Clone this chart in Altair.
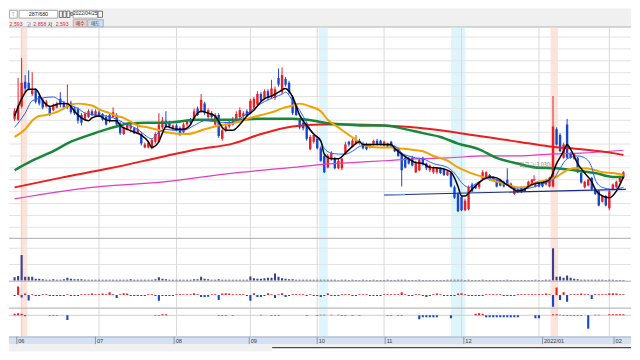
import altair as alt
import pandas as pd

# ---------------- data ----------------
opens = [3112,3104,3216,3424,3416,3320,3360,3304,3272,3216,
         3208,3184,3208,3280,3248,3208,3248,3200,3192,3144,
         3112,3128,3176,3136,3168,3152,3128,3144,3128,3144,
         3072,2984,3024,3032,3032,2992,2984,2872,2872,2864,
         2920,2920,3040,3096,3080,3024,3056,3032,3000,3064,
         3104,3104,3200,3176,3240,3128,3160,3064,3144,2944,
         3016,3048,3064,3104,3128,3136,3176,3160,3208,3232,
         3320,3280,3344,3296,3288,3456,3336,3448,3416,3296,
         3224,3104,3080,3064,2856,2920,2944,2864,2800,2704,
         2776,2776,2696,2696,2816,2920,2880,2904,2928,2904,
         2896,2872,2896,2928,2928,2888,2904,2920,2880,2856,
         2816,2784,2776,2784,2664,2680,2784,2736,2680,2664,
         2664,2696,2688,2640,2656,2536,2480,2456,2344,2352,
         2560,2552,2536,2600,2624,2640,2592,2600,2600,2584,
         2600,2536,2480,2520,2536,2536,2536,2560,2544,2584,
         2584,2560,2544,2544,3024,2976,2784,3064,2824,2776,
         2784,2656,2536,2552,2616,2520,2504,2416,2464,2360,
         2520,2536,2584,2616]
closes = [3176,3224,3416,3368,3368,3352,3256,3240,3208,3256,
          3144,3224,3240,3232,3208,3248,3168,3160,3096,3080,
          3152,3176,3144,3176,3136,3104,3064,3096,3168,3064,
          2992,3040,3064,3056,2992,3024,2904,2896,2912,2936,
          2984,3064,3096,3048,3048,3056,3016,2984,3064,3096,
          3080,3176,3144,3272,3160,3184,3128,3144,2968,3016,
          3048,3088,3112,3152,3184,3160,3136,3264,3280,3320,
          3264,3344,3288,3368,3360,3400,3480,3400,3336,3160,
          3144,3040,3032,2944,2960,2976,2864,2760,2664,2800,
          2824,2696,2760,2776,2896,2896,2928,2936,2904,2864,
          2856,2896,2928,2896,2896,2920,2880,2880,2840,2800,
          2680,2704,2736,2720,2744,2768,2728,2696,2720,2704,
          2696,2656,2640,2672,2544,2448,2336,2344,2424,2536,
          2504,2528,2576,2664,2664,2600,2624,2544,2552,2544,
          2560,2568,2536,2496,2496,2504,2584,2600,2560,2544,
          2544,2600,2616,3048,2896,2840,2896,2784,2784,2816,
          2664,2576,2584,2600,2520,2480,2384,2464,2384,2504,
          2560,2584,2624,2664]
highs = [3200,3456,3624,3480,3520,3504,3368,3320,3288,3272,
         3224,3240,3256,3336,3264,3400,3264,3216,3208,3160,
         3168,3192,3192,3192,3184,3160,3144,3160,3208,3160,
         3088,3048,3072,3072,3040,3080,3000,2912,2928,2944,
         3000,3160,3128,3176,3096,3064,3072,3048,3080,3104,
         3120,3200,3216,3320,3256,3200,3176,3160,3160,3032,
         3072,3104,3128,3176,3208,3176,3192,3280,3296,3344,
         3336,3360,3360,3440,3384,3536,3544,3464,3432,3312,
         3240,3120,3096,3080,2976,2992,2960,2880,2816,2816,
         2840,2792,2776,2784,2920,2928,2944,2976,2944,2920,
         2912,2904,2936,2944,2936,2928,2912,2928,2888,2864,
         2832,2800,2792,2800,2760,2784,2792,2744,2728,2712,
         2704,2704,2696,2680,2672,2552,2496,2472,2440,2552,
         2576,2560,2584,2680,2672,2648,2632,2608,2608,2592,
         2696,2576,2544,2528,2544,2544,2592,2608,2568,2592,
         2592,2608,2624,3304,3040,2992,2912,3112,2832,2824,
         2792,2664,2592,2608,2624,2528,2512,2472,2472,2520,
         2568,2592,2632,2672]
lows = [3096,3096,3200,3336,3352,3304,3240,3224,3192,3208,
        3136,3176,3200,3208,3192,3192,3152,3144,3072,3056,
        3096,3120,3136,3128,3128,3096,3056,3080,3120,3048,
        2976,2976,3016,3000,2984,2984,2888,2864,2864,2856,
        2904,2912,3024,3032,3032,3016,3008,2968,2992,3048,
        3064,3096,3136,3160,3144,3112,3112,3056,2952,2928,
        3000,3032,3056,3088,3112,3120,3128,3152,3192,3216,
        3256,3272,3272,3280,3272,3384,3320,3384,3320,3144,
        3136,3024,3016,2928,2848,2904,2856,2752,2656,2696,
        2760,2688,2688,2680,2808,2880,2872,2896,2896,2856,
        2848,2864,2888,2888,2888,2880,2872,2872,2832,2792,
        2544,2696,2728,2712,2656,2672,2720,2680,2664,2648,
        2648,2648,2632,2632,2536,2440,2328,2336,2336,2344,
        2496,2520,2520,2592,2616,2592,2584,2536,2544,2536,
        2552,2528,2472,2488,2488,2496,2528,2552,2536,2536,
        2536,2552,2536,2536,2888,2832,2776,2776,2776,2768,
        2656,2568,2528,2544,2512,2472,2376,2408,2376,2344,
        2512,2528,2576,2608]
volumes = [70,100,540,80,80,80,40,40,30,20,
           20,30,20,20,30,60,40,30,30,30,
           20,20,20,20,18,20,22,20,18,20,
           20,18,20,30,20,18,20,22,20,18,
           30,70,40,30,20,20,18,20,22,20,
           20,30,30,80,40,30,20,20,30,20,
           20,18,20,20,18,20,20,90,50,40,
           40,50,60,60,150,80,50,40,30,30,
           20,20,20,20,18,20,18,20,22,20,
           18,18,16,18,20,16,18,16,16,18,
           16,16,18,16,16,16,18,16,16,18,
           22,18,16,16,16,18,16,16,16,16,
           16,16,16,18,20,18,20,18,16,18,
           16,16,16,18,16,16,16,16,16,16,
           18,16,16,16,16,16,16,16,18,16,
           16,18,22,680,80,90,60,110,60,40,
           30,20,20,18,20,18,20,18,16,20,
           18,16,16,16]
ind1 = [-5,45,-12,8,-28,5,-5,-5,5,5,
        -5,-5,-5,-5,-5,4,-5,-5,-5,5,
        5,5,8,5,5,8,5,15,5,-15,
        5,10,8,-5,-5,-5,-5,-5,5,5,
        -5,-30,-5,-5,-5,-5,5,5,5,5,
        5,10,5,-10,-10,-8,5,5,-25,8,
        10,8,5,5,5,5,-5,-30,10,-10,
        -10,-5,10,5,-15,5,10,-10,-5,5,
        5,5,5,-5,5,-5,-5,-10,-5,10,
        -5,-5,-5,5,5,5,-5,-5,5,5,
        5,-5,-5,-5,-5,5,5,5,5,5,
        15,5,-5,-5,5,5,-5,-10,-5,5,
        8,5,-5,-5,-5,-5,8,10,5,-5,
        -5,-5,-5,-5,5,5,5,5,5,-5,
        -5,-5,-5,5,5,5,5,5,5,5,
        5,8,5,-60,40,-25,15,-35,5,5,
        5,8,5,5,-20,5,5,5,5,10,
        10,8,5,5]
ind2 = [15,20,15,-10,0,0,0,0,0,0,
        -5,-5,-5,0,0,-50,0,0,0,0,
        0,0,0,0,0,0,0,0,0,0,
        0,0,0,0,0,0,0,0,0,0,
        -5,-5,10,10,0,0,0,0,0,0,
        0,0,0,0,0,0,0,0,-5,-5,
        -5,0,-5,0,0,0,0,0,0,0,
        5,0,0,-5,-5,-5,0,0,0,0,
        0,0,0,-5,0,0,-5,5,5,0,
        5,0,5,-5,-5,0,-5,0,-5,0,
        0,0,0,0,0,0,-5,-5,0,-5,
        -5,0,0,0,0,-40,-20,-20,-20,-20,
        -20,0,0,0,-30,0,0,0,0,0,
        0,15,20,15,-20,-20,-20,-20,-20,-20,
        -20,-20,-20,-20,0,0,0,0,-30,-30,
        0,0,0,10,10,5,-5,-5,-5,-5,
        -5,-5,0,-140,0,5,5,0,0,10,
        10,10,10,10]

ma5_i = [0,2,4,6,8,10,11,13,15,16,17,19,21,22,24,26,27,29,30,32,34,36,38,39,41,42,43,46,48,50,
         51,53,55,57,59,60,62,64,66,68,70,71,73,75,77,78,79,81,83,85,87,88,90,92,94,96,98,99,103,107,
         108,110,112,114,116,118,121,124,126,127,128,130,132,134,135,137,139,141,143,145,146,148,150,152,154,156,157,158,160,162,
         164,165,167,169,171,173]
ma5_v = [3136,3280,3360,3360,3264,3216,3224,3240,3240,3216,3176,3120,3096,3120,3136,3104,3096,3096,3056,3024,
         3000,2976,2920,2872,2920,2992,3048,3024,3024,3064,3120,3176,3160,3136,3040,3016,3016,3064,3136,3184,
         3256,3280,3304,3336,3368,3344,3296,3144,3056,2984,2928,2816,2776,2776,2824,2880,2920,2896,2896,2896,
         2864,2816,2776,2744,2736,2704,2696,2664,2544,2464,2464,2520,2576,2616,2624,2616,2576,2536,2504,2520,
         2544,2568,2576,2600,2736,2840,2896,2856,2736,2656,2584,2520,2464,2448,2504,2624]
ma10_i = [0,3,5,8,11,13,16,18,20,23,26,28,31,32,35,37,39,41,43,45,48,51,54,57,61,67,70,74,76,77,
          79,81,83,85,87,88,90,92,94,96,98,99,103,107,109,110,112,114,116,119,123,125,127,129,132,135,137,140,143,146,
          148,151,153,155,157,160,162,164,165,167,170,173]
ma10_v = [3040,3160,3264,3288,3296,3264,3224,3200,3160,3144,3136,3120,3080,3064,3024,2976,2944,3000,3024,3016,
          3016,3056,3096,3088,3080,3176,3240,3296,3320,3336,3264,3184,3080,2976,2920,2864,2824,2816,2816,2840,
          2880,2888,2896,2888,2864,2824,2800,2784,2776,2736,2704,2656,2576,2536,2584,2616,2600,2560,2520,2528,
          2544,2576,2600,2696,2776,2800,2784,2704,2600,2536,2520,2536]
ma20_i = [0,3,5,7,9,11,13,16,18,22,24,27,29,31,33,35,38,41,43,49,54,58,63,67,70,74,76,79,81,84,
          87,89,92,95,97,99,103,107,109,112,116,119,123,126,129,133,137,140,143,146,148,152,154,156,159,162,165,167,170,173]
ma20_v = [2960,3024,3096,3136,3144,3160,3184,3232,3240,3224,3192,3160,3136,3120,3088,3056,3040,3016,3000,2984,
          3024,3056,3080,3120,3144,3176,3200,3224,3240,3216,3176,3104,3040,2976,2936,2896,2872,2872,2864,2856,
          2840,2800,2760,2704,2664,2624,2584,2560,2536,2544,2576,2600,2624,2664,2696,2696,2680,2664,2656,2640]
ma60_i = [0,5,11,16,22,27,30,32,38,43,52,58,63,69,79,85,88,94,99,105,110,116,121,126,132,137,143,148,154,159,165,170,173]
ma60_v = [2680,2760,2840,2920,2984,3032,3056,3072,3080,3080,3104,3104,3104,3112,3112,3096,3080,3064,3056,3056,
          3032,2992,2960,2904,2856,2784,2736,2704,2696,2680,2656,2624,2624]
ma120_i = [0,13,27,43,52,62,70,79,87,96,105,114,123,130,134,143,152,161,170,173]
ma120_v = [2536,2616,2696,2800,2856,2904,2984,3048,3064,3064,3056,3040,3008,2976,2960,2920,2880,2856,2824,2808]
ma240_i = [0,22,43,62,79,87,96,105,114,123,134,143,152,161,173]
ma240_v = [2440,2536,2584,2656,2704,2728,2744,2760,2776,2784,2800,2800,2816,2824,2848]

trend_i = [105, 173.7]
trend_v = [2472, 2520]
trend_light_i = [105, 111]
trend_light_v = [2472, 2476]

note_i = [148]
note_v = [2720]
note_text = ["최근고(3,030)"]
arrow_i = [147.6]
arrow_v = [2604]

price_grid = [2200,2300,2400,2500,2600,2700,2800,2900,3000,3100,3200,3300,3400,3500,3600,3700,3800]
vol_grid = [340, 680]

month_labels = ["06", "07", "08", "09", "10", "11", "12", "2022/01", "02"]
month_start = [2, 24, 46, 67, 86, 105, 127, 149, 169]

band_start = [1.7, 86.5, 124.0, 152.3]
band_end = [3.6, 89.0, 128.1, 154.4]
band_kind = ["up", "down", "down", "up"]

# ---------------- layout / style ----------------
W = 624
H_TOOL, H_PRICE, H_VOL, H_I1, H_I2, H_STRIP, H_BOT = 19, 211, 43, 27, 29, 8, 7
UP = "#ec1c24"
DOWN = "#1646cf"
GRID = "#e3e3e3"
MONTH = "#d9d9d9"
SEP = "#ababab"
SALMON = "#fde3da"
CYAN = "#def5fb"
KFONT = "Noto Sans CJK KR"
NFONT = "Liberation Sans"

cdf = pd.DataFrame(dict(i=list(range(len(closes))), o=opens, h=highs, l=lows, c=closes,
                        vol=volumes, d1=ind1, d2=ind2))
cdf["zero"] = 0
one = pd.DataFrame({"z": [0]})
mdf = pd.DataFrame({"i": month_start, "lab": month_labels})
bdf = pd.DataFrame({"s": band_start, "e": band_end, "kind": band_kind})

xs = alt.Scale(domain=[-0.174, 173.74], nice=False, zero=False)


def X(f="i"):
    return alt.X(f"{f}:Q", scale=xs, axis=None)


def bands():
    return alt.Chart(bdf).mark_rect(clip=True).encode(
        x=X("s"), x2="e:Q",
        color=alt.Color("kind:N", scale=alt.Scale(domain=["up", "down"], range=[SALMON, CYAN]), legend=None))


def mlines(color=MONTH):
    return alt.Chart(mdf).mark_rule(color=color, strokeWidth=1, clip=True).encode(x=X())


def sep(color=SEP, y=0.5):
    return alt.Chart(one).mark_rule(color=color, strokeWidth=1).encode(y=alt.value(y))


def box(x1, x2, y1, y2, fill, stroke=None):
    kw = dict(fill=fill)
    if stroke:
        kw.update(stroke=stroke, strokeWidth=0.8)
    return alt.Chart(one).mark_rect(**kw).encode(
        x=alt.value(x1), x2=alt.value(x2), y=alt.value(y1), y2=alt.value(y2))


def label(x, y, t, color="#222", size=6.5, align="left", font=NFONT):
    return alt.Chart(one).mark_text(text=t, color=color, fontSize=size, align=align,
                                    baseline="middle", font=font).encode(x=alt.value(x), y=alt.value(y))


# ---------------- toolbar ----------------
RED_T = "#e3262c"
tool = alt.layer(
    box(0, W, 0, H_TOOL, "#f0f0f0"),
    sep("#b5b5b5", H_TOOL - 0.5),
    box(0.5, 8.3, 1.8, 9.6, "#ffffff", "#9a9a9a"),
    label(4.4, 5.6, "⊤", "#666", 5, "center"),
    box(10.2, 48.8, 1.8, 9.6, "#ffffff", "#9a9a9a"),
    label(29.5, 5.9, "287/680", "#222", 5.4, "center"),
    box(50.5, 53.5, 2.5, 9, "#f7f7f7", "#555"),
    box(54.3, 57.3, 2.5, 9, "#f7f7f7", "#555"),
    box(58.1, 61.1, 2.5, 9, "#f7f7f7", "#555"),
    label(62.8, 5.8, "⚙", "#444", 5.5, "center", "DejaVu Sans"),
    box(64.4, 88.7, 1.8, 9.6, "#ffffff", "#9a9a9a"),
    label(76.5, 5.9, "2022/04/25", "#222", 4.9, "center"),
    box(89.3, 93.8, 2.6, 8.8, "#ffffff", "#555"),
    label(0.6, 15.2, "2,593", RED_T, 5.2),
    label(17.6, 15.2, "고", "#333", 5.0, "left", KFONT),
    label(24.4, 15.2, "2,858", RED_T, 5.2),
    label(39.0, 15.2, "저", "#333", 5.0, "left", KFONT),
    label(46.8, 15.2, "2,593", RED_T, 5.2),
    box(64.4, 78.2, 11.2, 18.3, "#f6cdc6", "#c99a96"),
    label(71.3, 14.9, "매수", "#333", 5.0, "center", KFONT),
    box(79.0, 94.6, 11.2, 18.3, "#cfe0f4", "#8ea6c6"),
    label(86.8, 14.9, "매도", "#333", 5.0, "center", KFONT),
).properties(width=W, height=H_TOOL)

# ---------------- price panel ----------------
ys = alt.Scale(domain=[2112, 3880], nice=False, zero=False)
updown = alt.condition("datum.c > datum.o", alt.value(UP), alt.value(DOWN))

pgrid = alt.Chart(pd.DataFrame({"g": price_grid})).mark_rule(color=GRID, strokeWidth=1).encode(
    y=alt.Y("g:Q", scale=ys, axis=None))
wick = alt.Chart(cdf).mark_rule(strokeWidth=1, clip=True).encode(
    x=X(), y=alt.Y("l:Q", scale=ys, axis=None), y2="h:Q", color=updown)
body = alt.Chart(cdf).mark_bar(size=2.4, clip=True).encode(
    x=X(), y=alt.Y("o:Q", scale=ys, axis=None), y2="c:Q", color=updown)


def ma(ix, vals, color, width):
    return alt.Chart(pd.DataFrame({"i": ix, "v": vals})).mark_line(
        color=color, strokeWidth=width, interpolate="monotone", clip=True).encode(
        x=X(), y=alt.Y("v:Q", scale=ys, axis=None))


trend = alt.Chart(pd.DataFrame({"i": trend_i, "v": trend_v})).mark_line(
    color="#1b2a86", strokeWidth=1.2, clip=True).encode(x=X(), y=alt.Y("v:Q", scale=ys, axis=None))
trend_l = alt.Chart(pd.DataFrame({"i": trend_light_i, "v": trend_light_v})).mark_line(
    color="#7d98d6", strokeWidth=1.4, clip=True).encode(x=X(), y=alt.Y("v:Q", scale=ys, axis=None))
note = alt.Chart(pd.DataFrame({"i": note_i, "v": note_v, "t": note_text})).mark_text(
    fontSize=5.5, color="#7a7a7a", font=KFONT, clip=True).encode(
    x=X(), y=alt.Y("v:Q", scale=ys, axis=None), text="t:N")
arrow = alt.Chart(pd.DataFrame({"i": arrow_i, "v": arrow_v})).mark_text(
    text="↓", fontSize=8, fontWeight="bold", color=UP, font="DejaVu Sans", clip=True).encode(
    x=X(), y=alt.Y("v:Q", scale=ys, axis=None))

price = alt.layer(
    bands(), pgrid, mlines(),
    wick, body,
    ma(ma240_i, ma240_v, "#e03cc6", 1.2),
    ma(ma120_i, ma120_v, "#ee1c1c", 2.0),
    ma(ma60_i, ma60_v, "#17873a", 2.5),
    ma(ma20_i, ma20_v, "#f2a100", 2.0),
    ma(ma10_i, ma10_v, "#2a5cff", 1.0),
    ma(ma5_i, ma5_v, "#000000", 1.5),
    trend, trend_l, note, arrow,
).properties(width=W, height=H_PRICE)

# ---------------- volume panel ----------------
yv = alt.Scale(domain=[0, 900], nice=False, zero=False)
vgrid = alt.Chart(pd.DataFrame({"g": vol_grid})).mark_rule(color=GRID).encode(
    y=alt.Y("g:Q", scale=yv, axis=None))
vbars = alt.Chart(cdf).mark_bar(size=2.1, color="#3d3f90", clip=True).encode(
    x=X(), y=alt.Y("vol:Q", scale=yv, axis=None), y2="zero:Q")
vol = alt.layer(bands(), vgrid, mlines(), vbars, sep()).properties(width=W, height=H_VOL)

# ---------------- indicator 1 ----------------
y1 = alt.Scale(domain=[-65, 75], nice=False, zero=False)
b1 = alt.Chart(cdf).mark_bar(size=2.1, clip=True).encode(
    x=X(), y=alt.Y("d1:Q", scale=y1, axis=None), y2="zero:Q",
    color=alt.condition("datum.d1 > 0", alt.value(UP), alt.value(DOWN)))
p1 = alt.layer(bands(), mlines(), b1, sep()).properties(width=W, height=H_I1)

# ---------------- indicator 2 ----------------
y2s = alt.Scale(domain=[-220, 80], nice=False, zero=False)
z2 = alt.Chart(one).mark_rule(color="#cfcfcf").encode(y=alt.Y("z:Q", scale=y2s, axis=None))
b2 = alt.Chart(cdf).mark_bar(size=2.1, clip=True).encode(
    x=X(), y=alt.Y("d2:Q", scale=y2s, axis=None), y2="zero:Q",
    color=alt.condition("datum.d2 > 0", alt.value(UP), alt.value(DOWN)))
p2 = alt.layer(bands(), mlines(), z2, b2, sep()).properties(width=W, height=H_I2)

# ---------------- month strip ----------------
strip = alt.layer(
    box(0, W, 0, H_STRIP, "#d5e1f0"),
    sep("#9fb0c8"),
    mlines("#8898b2"),
    alt.Chart(mdf).mark_text(align="left", baseline="middle", dx=1.5, fontSize=5.6,
                             color="#3a3a3a", font=NFONT, clip=True).encode(
        x=X(), y=alt.value(H_STRIP / 2 + 0.5), text="lab:N"),
).properties(width=W, height=H_STRIP)

bottom = alt.layer(
    box(0, W, 0, H_BOT, "#f1f1f1"),
    box(264, W, 3.2, H_BOT, "#ffffff"),
    alt.Chart(one).mark_rule(color="#4a4a4a", strokeWidth=1.2).encode(
        x=alt.value(264), x2=alt.value(W), y=alt.value(3.2)),
).properties(width=W, height=H_BOT)

chart = alt.vconcat(tool, price, vol, p1, p2, strip, bottom, spacing=0).properties(
    padding=0, background="white"
).configure_view(stroke=None).configure_concat(spacing=0)

chart.save("out.html", embed_options={"renderer": "svg", "actions": False})
